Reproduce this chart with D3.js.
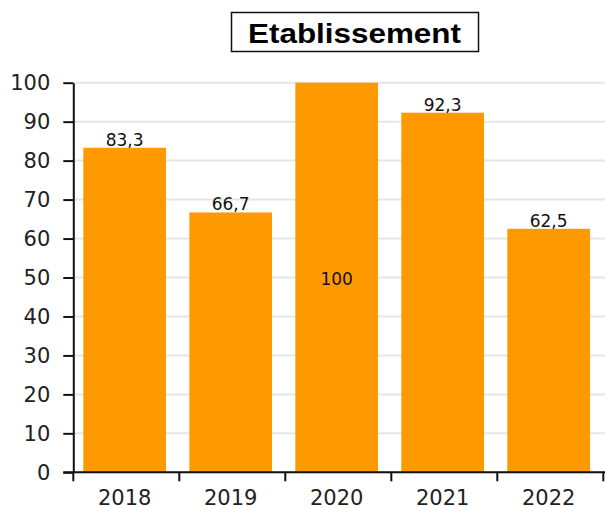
<!DOCTYPE html>
<html>
<head>
<meta charset="utf-8">
<script src="https://cdn.jsdelivr.net/npm/d3@7"></script>
<style>
  body { margin: 0; background: #fff; }
  svg { display: block; }
</style>
</head>
<body>
<div id="chart"></div>
<script>
// données
const categories = ['2018', '2019', '2020', '2021', '2022'];
const values = [83.3, 66.7, 100, 92.3, 62.5];
const valueLabels = ['83,3', '66,7', '100', '92,3', '62,5'];
const yTicks = [0, 10, 20, 30, 40, 50, 60, 70, 80, 90, 100];
const title = 'Etablissement';

const width = 605, height = 508;
const plotLeft = 73.3, plotRight = 603.3, plotTop = 82.7, plotBottom = 472.3;

const svg = d3.select('#chart')
    .append('svg')
    .attr('width', width)
    .attr('height', height);

const x = d3.scaleBand()
    .domain(categories)
    .range([plotLeft, plotRight])
    .paddingInner(0.22)
    .paddingOuter(0.11)
    .align(0.43);

const y = d3.scaleLinear()
    .domain([0, 100])
    .range([plotBottom, plotTop]);

// grille
svg.append('g')
    .selectAll('line')
    .data(yTicks)
    .enter()
    .append('line')
    .attr('x1', plotLeft)
    .attr('x2', width)
    .attr('y1', d => y(d))
    .attr('y2', d => y(d))
    .attr('stroke', '#e6e6e6')
    .attr('stroke-width', 2);

// barres
svg.append('g')
    .selectAll('rect')
    .data(values)
    .enter()
    .append('rect')
    .attr('x', (d, i) => x(categories[i]))
    .attr('y', d => y(d))
    .attr('width', x.bandwidth())
    .attr('height', d => y(0) - y(d))
    .attr('fill', '#ff9900');

// étiquettes (au centre si la barre touche le haut)
svg.append('g')
    .selectAll('text')
    .data(values)
    .enter()
    .append('text')
    .attr('x', (d, i) => x(categories[i]) + x.bandwidth() / 2)
    .attr('y', d => d >= 100 ? y(d / 2) + 7.5 : y(d) - 2)
    .attr('text-anchor', 'middle')
    .attr('font-family', 'DejaVu Sans, sans-serif')
    .attr('font-size', 17)
    .attr('fill', '#111')
    .text((d, i) => valueLabels[i]);

// axe y
const yAxis = svg.append('g')
    .attr('transform', `translate(${plotLeft},0)`)
    .call(d3.axisLeft(y).tickValues(yTicks).tickSize(10).tickPadding(13).tickSizeOuter(0));
yAxis.select('.domain').attr('stroke', '#111').attr('stroke-width', 2);
yAxis.selectAll('.tick line').attr('stroke', '#111').attr('stroke-width', 2);
yAxis.selectAll('text')
    .attr('font-family', 'DejaVu Sans, sans-serif')
    .attr('font-size', 21)
    .attr('fill', '#222');

// axe x
const xAxis = svg.append('g')
    .attr('transform', `translate(0,${y(0)})`);
xAxis.append('line')
    .attr('x1', plotLeft - 10)
    .attr('x2', width)
    .attr('stroke', '#111')
    .attr('stroke-width', 2);
const bounds = categories.map(c => x(c) - x.step() * x.paddingInner() * 0.43).concat([plotRight]);
xAxis.selectAll('line.sep')
    .data(bounds)
    .enter()
    .append('line')
    .attr('class', 'sep')
    .attr('x1', d => d)
    .attr('x2', d => d)
    .attr('y1', 0)
    .attr('y2', 9)
    .attr('stroke', '#111')
    .attr('stroke-width', 2);
xAxis.selectAll('text')
    .data(categories)
    .enter()
    .append('text')
    .attr('x', d => x(d) + x.bandwidth() / 2)
    .attr('y', 33)
    .attr('text-anchor', 'middle')
    .attr('font-family', 'DejaVu Sans, sans-serif')
    .attr('font-size', 21)
    .attr('fill', '#222')
    .text(d => d);

// titre
svg.append('rect')
    .attr('x', 231.5)
    .attr('y', 12.5)
    .attr('width', 247)
    .attr('height', 39)
    .attr('fill', '#fff')
    .attr('stroke', '#111')
    .attr('stroke-width', 1.5);
svg.append('text')
    .attr('x', 354.5)
    .attr('y', 43.3)
    .attr('text-anchor', 'middle')
    .attr('font-family', 'Liberation Sans, Arial, sans-serif')
    .attr('font-weight', 'bold')
    .attr('font-size', 28)
    .attr('textLength', 213)
    .attr('lengthAdjust', 'spacingAndGlyphs')
    .attr('fill', '#000')
    .text(title);
</script>
</body>
</html>
